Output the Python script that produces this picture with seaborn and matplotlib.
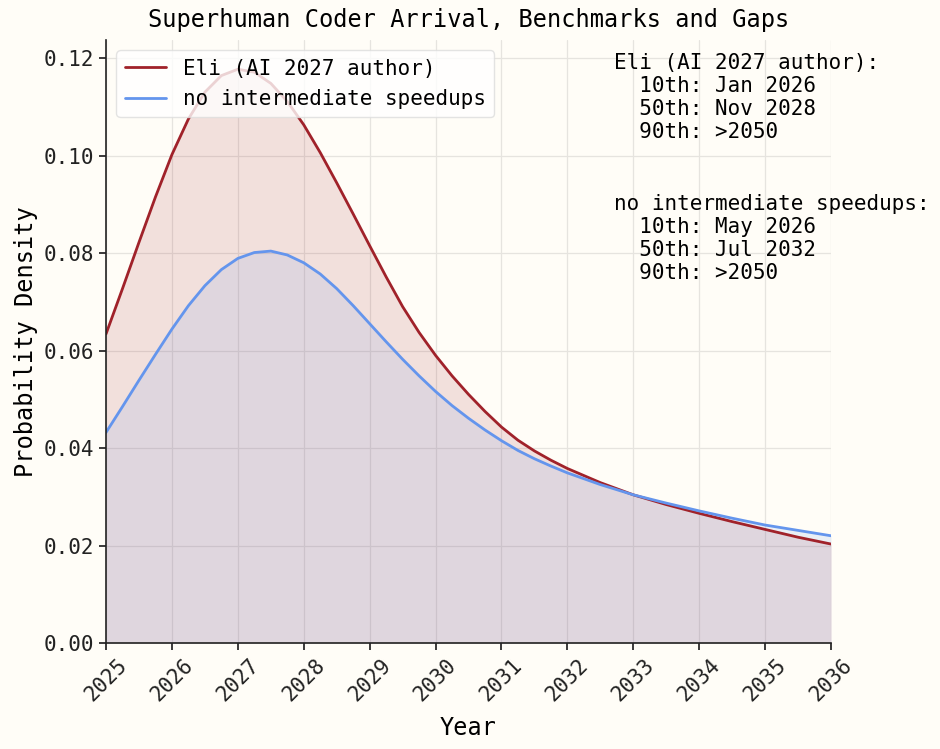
import numpy as np
import pandas as pd
import matplotlib
matplotlib.use("Agg")
import matplotlib.pyplot as plt
import seaborn as sns

# ---- data ----
years = [2025.0, 2025.25, 2025.5, 2025.75, 2026.0, 2026.25, 2026.5, 2026.75,
         2027.0, 2027.25, 2027.5, 2027.75, 2028.0, 2028.25, 2028.5, 2028.75,
         2029.0, 2029.25, 2029.5, 2029.75, 2030.0, 2030.25, 2030.5, 2030.75,
         2031.0, 2031.25, 2031.5, 2031.75, 2032.0, 2032.5, 2033.0, 2033.5,
         2034.0, 2034.5, 2035.0, 2035.5, 2036.0]
eli_density = [0.0634, 0.0727, 0.0822, 0.0915, 0.1002, 0.1075, 0.1130, 0.1164,
               0.1177, 0.1171, 0.1148, 0.1111, 0.1063, 0.1006, 0.0944, 0.0880,
               0.0815, 0.0751, 0.0690, 0.0637, 0.0590, 0.0548, 0.0510, 0.0475,
               0.0443, 0.0416, 0.0394, 0.0375, 0.0358, 0.0329, 0.0304, 0.0284,
               0.0266, 0.0249, 0.0233, 0.0217, 0.0203]
nospeed_density = [0.0432, 0.0485, 0.0539, 0.0592, 0.0644, 0.0692, 0.0733, 0.0766,
                   0.0789, 0.0801, 0.0804, 0.0796, 0.0780, 0.0757, 0.0727, 0.0692,
                   0.0655, 0.0618, 0.0582, 0.0548, 0.0516, 0.0487, 0.0461, 0.0437,
                   0.0415, 0.0395, 0.0378, 0.0363, 0.0349, 0.0325, 0.0304, 0.0287,
                   0.0271, 0.0256, 0.0242, 0.0231, 0.0220]
series_names = ["Eli (AI 2027 author)", "no intermediate speedups"]
xtick_years = list(range(2025, 2037))
ytick_values = [0.00, 0.02, 0.04, 0.06, 0.08, 0.10, 0.12]
eli_lines = [
    "Eli (AI 2027 author):",
    "  10th: Jan 2026",
    "  50th: Nov 2028",
    "  90th: >2050",
]
nospeed_lines = [
    "no intermediate speedups:",
    "  10th: May 2026",
    "  50th: Jul 2032",
    "  90th: >2050",
]

# ---- style ----
bg = "#fffdf7"
red = "#a0222a"
blue = "#6495ed"
sns.set_theme(style="whitegrid")
plt.rcParams["font.family"] = ["DejaVu Sans Mono", "DejaVu Sans"]
plt.rcParams.update({
    "figure.facecolor": bg,
    "axes.facecolor": bg,
    "savefig.facecolor": bg,
    "axes.edgecolor": "#222222",
    "axes.linewidth": 1.2,
    "grid.color": "#e6e4df",
    "grid.linewidth": 0.9,
    "xtick.bottom": True,
    "ytick.left": True,
    "xtick.major.size": 5,
    "ytick.major.size": 5,
    "xtick.color": "#222222",
    "ytick.color": "#222222",
    "text.color": "black",
    "axes.labelcolor": "black",
})

df = pd.DataFrame({
    "Year": years * 2,
    "Probability Density": eli_density + nospeed_density,
    "series": [series_names[0]] * len(years) + [series_names[1]] * len(years),
})

fig = plt.figure(figsize=(9.4, 7.49), dpi=100)
ax = fig.add_axes([0.1128, 0.1415, 0.7713, 0.8051])

sns.lineplot(data=df, x="Year", y="Probability Density", hue="series",
             palette={series_names[0]: red, series_names[1]: blue},
             linewidth=2, ax=ax)
ax.fill_between(years, eli_density, color=red, alpha=0.13, linewidth=0)
ax.fill_between(years, nospeed_density, color=blue, alpha=0.13, linewidth=0)

ax.set_xlim(2025, 2036)
ax.set_ylim(0, 0.1237)
ax.set_xticks(xtick_years)
ax.set_xticklabels([str(y) for y in xtick_years], rotation=45, fontsize=15)
ax.set_yticks(ytick_values)
ax.set_yticklabels([f"{v:.2f}" for v in ytick_values], fontsize=15)
ax.set_xlabel("Year", fontsize=17, labelpad=8)
ax.set_ylabel("Probability Density", fontsize=17)
ax.set_title("Superhuman Coder Arrival, Benchmarks and Gaps", fontsize=17, pad=9)
sns.despine(ax=ax)

leg = ax.legend(loc="upper left", fontsize=15, frameon=True, framealpha=0.8,
                handlelength=2.0, borderaxespad=0.5)
leg.get_frame().set_edgecolor("#dddddd")
leg.get_frame().set_facecolor("white")

ax.text(0.70, 0.979, "\n".join(eli_lines), transform=ax.transAxes,
        va="top", ha="left", fontsize=15, linespacing=1.19)
ax.text(0.70, 0.745, "\n".join(nospeed_lines), transform=ax.transAxes,
        va="top", ha="left", fontsize=15, linespacing=1.19)

fig.savefig("out.png", dpi=100)
